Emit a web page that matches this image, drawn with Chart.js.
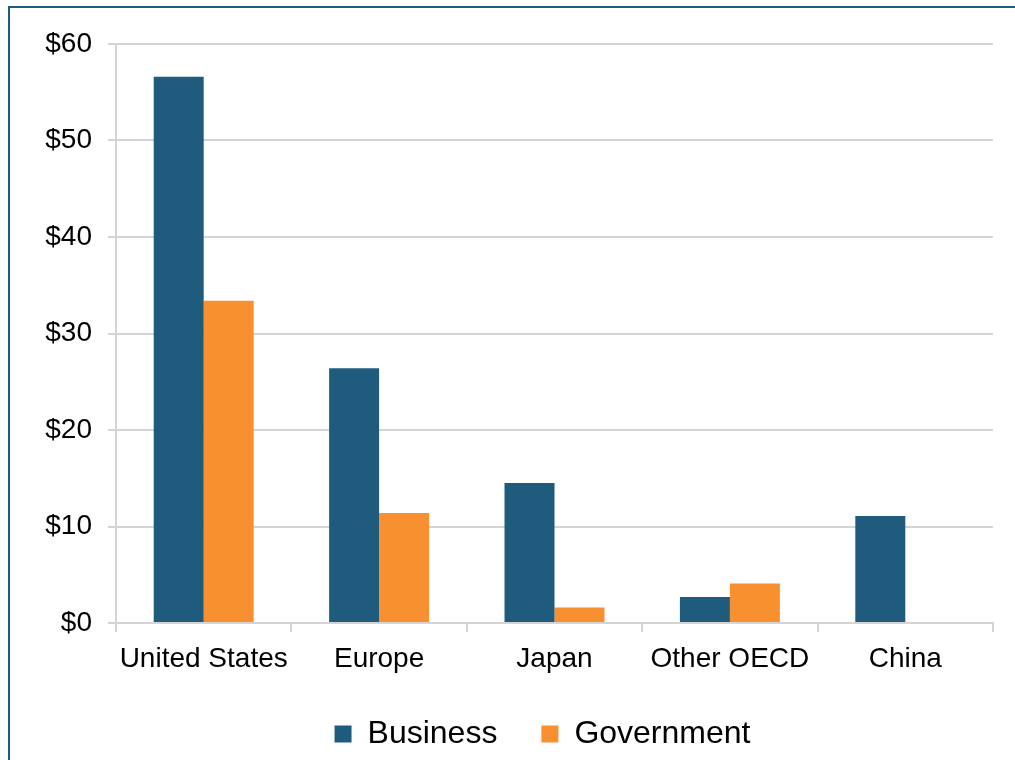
<!DOCTYPE html>
<html>
<head>
<meta charset="utf-8">
<script src="https://cdn.jsdelivr.net/npm/chart.js@4"></script>
<style>
  html, body { margin: 0; padding: 0; background: #fff; overflow: hidden; }
  #frame { position: absolute; left: 8px; top: 6px; width: 1100px; height: 900px;
           border-left: 2px solid #1f5c80; border-top: 2px solid #1f5c80; }
  #wrap { position: absolute; left: 0; top: 0; width: 1015px; height: 760px; }
</style>
</head>
<body>
<div id="frame"></div>
<div id="wrap"><canvas id="chart"></canvas></div>
<script>
const regions = ['United States', 'Europe', 'Japan', 'Other OECD', 'China'];
const business = [56.6, 26.4, 14.5, 2.7, 11.1];
const government = [33.4, 11.4, 1.6, 4.1, 0];
const yTicks = [0, 10, 20, 30, 40, 50, 60];

const FONT = '"Liberation Sans", Arial, sans-serif';
const gridColor = '#d4d4d4';

// the legend in the original sits under the plot area, not the canvas centre
const legendShift = {
  id: 'legendShift',
  afterLayout(chart) {
    const lg = chart.legend;
    if (lg) { lg.left += 46; lg.right += 46; }
  },
};

const data = {
  labels: regions,
  datasets: [
    { label: 'Business', data: business, backgroundColor: '#1e5b7c' },
    { label: 'Government', data: government, backgroundColor: '#f8902f' },
  ],
};

const config = {
  type: 'bar',
  data,
  plugins: [legendShift],
  options: {
    responsive: true,
    maintainAspectRatio: false,
    animation: false,
    layout: { padding: { top: 44, right: 22, left: 0, bottom: 0 } },
    datasets: { bar: { barPercentage: 1, categoryPercentage: 0.57 } },
    plugins: {
      tooltip: { enabled: false },
      legend: {
        position: 'bottom',
        labels: {
          font: { size: 32, family: FONT },
          color: '#000',
          boxWidth: 17,
          boxHeight: 17,
          padding: 44,
        },
      },
    },
    scales: {
      x: {
        grid: { display: true, drawOnChartArea: false, drawTicks: true, tickLength: 9, color: gridColor, lineWidth: 2, offset: true },
        border: { display: true, color: gridColor, width: 2 },
        ticks: { font: { size: 28, family: FONT }, color: '#000', padding: 10, maxRotation: 0 },
        afterFit: (scale) => { scale.height = 51; },
      },
      y: {
        min: 0,
        max: 60,
        afterBuildTicks: (scale) => { scale.ticks = yTicks.map((v) => ({ value: v })); },
        grid: { display: true, drawTicks: true, tickLength: 8, color: gridColor, lineWidth: 2 },
        border: { display: true, color: gridColor, width: 2 },
        ticks: { font: { size: 28, family: FONT }, color: '#000', padding: 16, callback: (v) => '$' + v },
        afterFit: (scale) => { scale.width = 116; },
      },
    },
  },
};

new Chart(document.getElementById('chart'), config);
</script>
</body>
</html>
